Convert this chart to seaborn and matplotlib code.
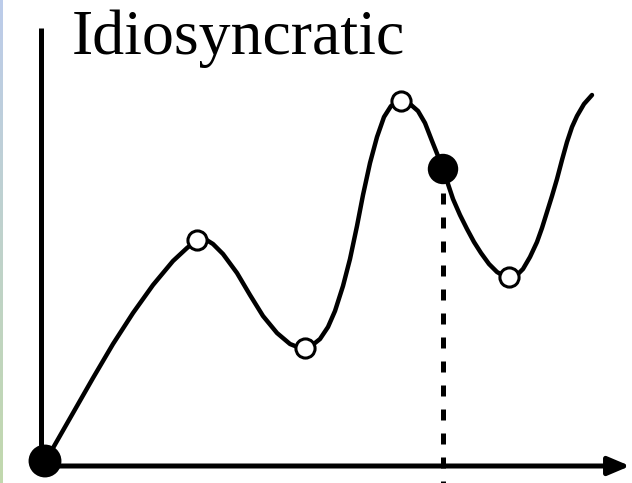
import numpy as np
import pandas as pd
import matplotlib
matplotlib.use("Agg")
import matplotlib.pyplot as plt
import seaborn as sns

# Curve (x to the right of the origin, y above the x axis, in pixels)
curve_x = [3, 11, 31, 51, 71, 91, 111, 131, 145, 155, 163, 171, 181, 195, 208, 221, 235, 248,
           258, 268, 278, 286, 293, 301, 308, 315, 321, 328, 335, 342, 349, 359, 368, 376, 383,
           390, 396, 401, 406, 411, 418, 425, 432, 439, 447, 455, 462, 468, 475, 481, 488, 495,
           500, 505, 510, 515, 520, 525, 530, 535, 542, 550]
curve_y = [5, 18, 53, 88, 122, 153, 181, 205, 218, 226, 227, 222, 212, 193, 171, 150, 133, 122,
           118, 119, 127, 139, 155, 180, 207, 240, 271, 303, 329, 349, 360, 365, 362, 355, 343,
           325, 310, 297, 282, 267, 251, 237, 224, 213, 202, 194, 190, 189, 191, 197, 209, 224,
           238, 254, 270, 287, 306, 324, 339, 350, 362, 371]
open_x = [155, 263, 359, 467]
open_y = [226, 118, 365, 189]
filled_x = [3, 401]
filled_y = [5, 297]
title_text = "Idiosyncratic"

sns.set_style("white")
fig = plt.figure(figsize=(6.32, 4.83), dpi=100)

# thin coloured strip at the left edge
strip = fig.add_axes([0, 0, 3 / 632, 1])
grad = np.linspace(0, 1, 100)[:, None, None]
top = np.array([0.74, 0.80, 0.92])
bot = np.array([0.76, 0.85, 0.68])
img = top * (1 - grad) + bot * grad
strip.imshow(img, aspect="auto", extent=[0, 1, 0, 1], origin="upper")
strip.axis("off")

ax = fig.add_axes([0, 0, 1, 1])
ax.set_xlim(-42, 590)
ax.set_ylim(-17, 466)
ax.axis("off")

lw_axis = 3.6
# vertical axis
ax.plot([-1, -1], [2, 438], color="black", lw=lw_axis, solid_capstyle="butt")
# horizontal axis with arrow
ax.annotate("", xy=(588, 0), xytext=(2, 0),
            arrowprops=dict(arrowstyle="-|>,head_length=1.3,head_width=0.55",
                            color="black", lw=lw_axis, shrinkA=0, shrinkB=0))
# dashed drop line
ax.plot([filled_x[1], filled_x[1]], [filled_y[1], -17], color="black", lw=3.6,
        dashes=(2.2, 2.6))

df = pd.DataFrame({"x": curve_x, "y": curve_y})
sns.lineplot(data=df, x="x", y="y", ax=ax, color="black", lw=3.2, sort=False,
             estimator=None, solid_joinstyle="round", solid_capstyle="round")

sns.scatterplot(x=open_x, y=open_y, ax=ax, s=190, color="white", edgecolor="black",
                linewidth=2.2, zorder=5)
sns.scatterplot(x=filled_x, y=filled_y, ax=ax, s=[560, 480], color="black",
                edgecolor="black", linewidth=0, zorder=6, legend=False)

ax.set_xlim(-42, 590)
ax.set_ylim(-17, 466)
ax.axis("off")
ax.text(30, 412, title_text, fontsize=46, family="Liberation Serif",
        ha="left", va="baseline", color="black")

fig.savefig("out.png", dpi=100)
